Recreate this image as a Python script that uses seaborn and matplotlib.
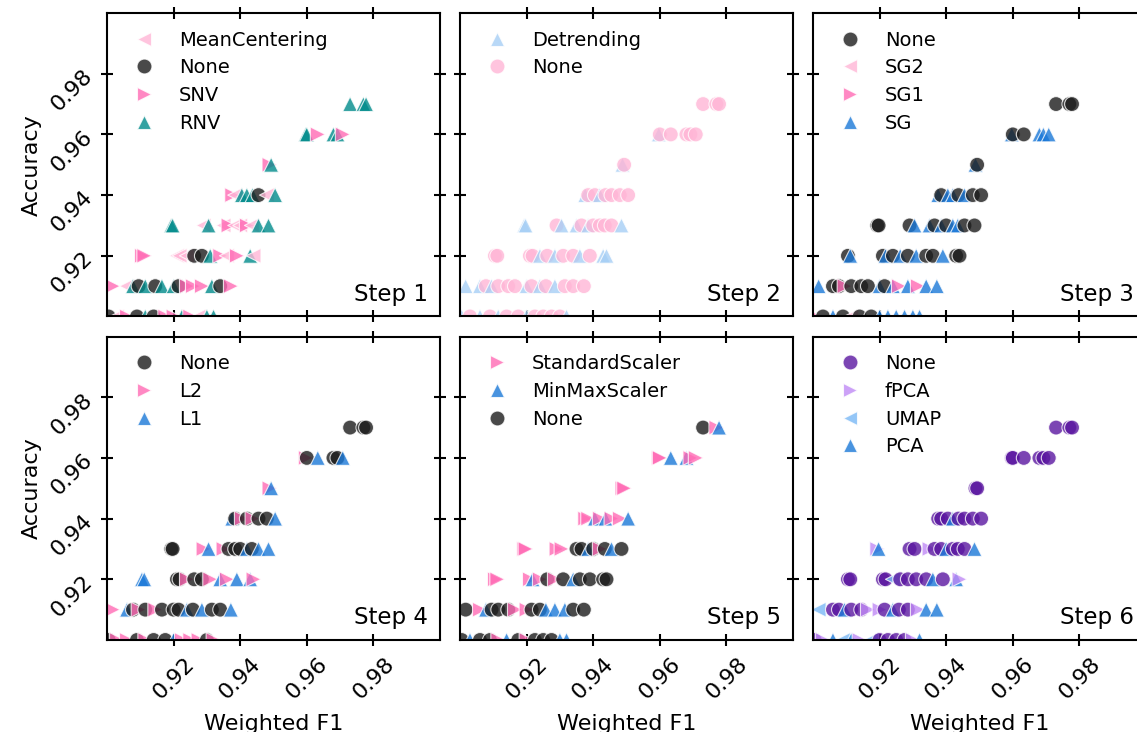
import matplotlib
matplotlib.use('Agg')
import matplotlib.pyplot as plt
import seaborn as sns
import pandas as pd

# one entry per pipeline run, grouped by accuracy level (0.97 down to 0.90)
f1 = [
    0.9730, 0.9770, 0.9778,
    0.9597, 0.9600, 0.9633, 0.9680, 0.9692, 0.9708,
    0.9488, 0.9493,
    0.9376, 0.9385, 0.9405, 0.9420, 0.9437, 0.9455, 0.9480, 0.9505,
    0.9193, 0.9197, 0.9290, 0.9305, 0.9350, 0.9365, 0.9385, 0.9400, 0.9420, 0.9435, 0.9455, 0.9485,
    0.9105, 0.9112, 0.9210, 0.9218, 0.9240, 0.9262, 0.9285, 0.9310, 0.9340, 0.9360, 0.9390, 0.9430, 0.9440,
    0.9017, 0.9060, 0.9078, 0.9095, 0.9115, 0.9145, 0.9165, 0.9200, 0.9215, 0.9240, 0.9258, 0.9285, 0.9315, 0.9340, 0.9372,
    0.9005, 0.9030, 0.9060, 0.9090, 0.9115, 0.9140, 0.9175, 0.9200, 0.9225, 0.9250, 0.9275, 0.9300, 0.9320,
]
acc = [
    0.97, 0.97, 0.97,
    0.96, 0.96, 0.96, 0.96, 0.96, 0.96,
    0.95, 0.95,
    0.94, 0.94, 0.94, 0.94, 0.94, 0.94, 0.94, 0.94,
    0.93, 0.93, 0.93, 0.93, 0.93, 0.93, 0.93, 0.93, 0.93, 0.93, 0.93, 0.93,
    0.92, 0.92, 0.92, 0.92, 0.92, 0.92, 0.92, 0.92, 0.92, 0.92, 0.92, 0.92, 0.92,
    0.91, 0.91, 0.91, 0.91, 0.91, 0.91, 0.91, 0.91, 0.91, 0.91, 0.91, 0.91, 0.91, 0.91, 0.91,
    0.90, 0.90, 0.90, 0.90, 0.90, 0.90, 0.90, 0.90, 0.90, 0.90, 0.90, 0.90, 0.90,
]

step1 = [
    'RNV', 'RNV', 'RNV',
    'RNV', 'RNV', 'SNV', 'RNV', 'RNV', 'SNV',
    'SNV', 'RNV',
    'SNV', 'MeanCentering', 'RNV', 'RNV', 'RNV', 'None', 'MeanCentering', 'RNV',
    'RNV', 'RNV', 'MeanCentering', 'RNV', 'MeanCentering', 'SNV', 'MeanCentering', 'MeanCentering', 'SNV', 'MeanCentering', 'RNV', 'RNV',
    'SNV', 'SNV', 'MeanCentering', 'MeanCentering', 'MeanCentering', 'None', 'None', 'RNV', 'SNV', 'MeanCentering', 'SNV', 'RNV', 'MeanCentering',
    'SNV', 'MeanCentering', 'RNV', 'None', 'RNV', 'None', 'RNV', 'RNV', 'None', 'SNV', 'SNV', 'SNV', 'RNV', 'None', 'SNV',
    'None', 'MeanCentering', 'SNV', 'None', 'RNV', 'None', 'SNV', 'SNV', 'RNV', 'SNV', 'MeanCentering', 'RNV', 'RNV',
]
step2 = [
    'None', 'None', 'None',
    'Detrending', 'None', 'None', 'None', 'None', 'None',
    'Detrending', 'None',
    'Detrending', 'None', 'None', 'Detrending', 'None', 'None', 'None', 'None',
    'Detrending', 'Detrending', 'None', 'Detrending', 'Detrending', 'None', 'Detrending', 'None', 'None', 'None', 'None', 'Detrending',
    'None', 'None', 'None', 'None', 'Detrending', 'None', 'Detrending', 'None', 'None', 'Detrending', 'None', 'Detrending', 'Detrending',
    'Detrending', 'Detrending', 'None', 'Detrending', 'None', 'None', 'None', 'Detrending', 'None', 'Detrending', 'None', 'Detrending', 'None', 'None', 'None',
    'Detrending', 'None', 'Detrending', 'None', 'Detrending', 'None', 'None', 'Detrending', 'None', 'None', 'None', 'None', 'Detrending',
]
step3 = [
    'None', 'None', 'None',
    'SG', 'None', 'None', 'SG', 'SG', 'SG',
    'SG', 'None',
    'SG', 'None', 'SG', 'SG', 'None', 'SG', 'None', 'None',
    'None', 'None', 'None', 'SG', 'SG', 'None', 'SG', 'None', 'SG', 'SG', 'None', 'None',
    'None', 'SG', 'None', 'SG', 'None', 'SG', 'None', 'SG', 'None', 'None', 'SG', 'None', 'None',
    'SG', 'None', 'None', 'SG1', 'None', 'None', 'None', 'SG', 'None', 'SG', 'SG1', 'SG', 'SG1', 'SG', 'SG',
    'SG1', 'None', 'SG', 'None', 'SG2', 'None', 'None', 'SG', 'SG', 'SG', 'SG', 'SG', 'SG',
]
step4 = [
    'None', 'None', 'None',
    'L2', 'None', 'L1', 'None', 'None', 'L1',
    'L2', 'L1',
    'L1', 'None', 'L2', 'None', 'L2', 'None', 'None', 'L1',
    'None', 'None', 'L2', 'L1', 'L2', 'None', 'None', 'None', 'L1', 'None', 'L1', 'L1',
    'L1', 'L1', 'None', 'None', 'L2', 'None', 'None', 'L2', 'L1', 'L2', 'L1', 'L1', 'L2',
    'L2', 'L1', 'None', 'L2', 'None', 'L2', 'None', 'None', 'None', 'L1', 'None', 'L1', 'None', 'None', 'L1',
    'None', 'L2', 'L2', 'None', 'L2', 'None', 'None', 'L1', 'L2', 'L2', 'L2', 'None', 'L2',
]
step5 = [
    'None', 'StandardScaler', 'MinMaxScaler',
    'StandardScaler', 'StandardScaler', 'MinMaxScaler', 'MinMaxScaler', 'StandardScaler', 'StandardScaler',
    'StandardScaler', 'StandardScaler',
    'StandardScaler', 'StandardScaler', 'MinMaxScaler', 'StandardScaler', 'MinMaxScaler', 'StandardScaler', 'StandardScaler', 'MinMaxScaler',
    'StandardScaler', 'StandardScaler', 'StandardScaler', 'StandardScaler', 'None', 'None', 'MinMaxScaler', 'None', 'StandardScaler', 'None', 'MinMaxScaler', 'None',
    'StandardScaler', 'StandardScaler', 'StandardScaler', 'MinMaxScaler', 'StandardScaler', 'None', 'StandardScaler', 'None', 'MinMaxScaler', 'None', 'None', 'None', 'None',
    'None', 'StandardScaler', 'MinMaxScaler', 'None', 'None', 'None', 'StandardScaler', 'StandardScaler', 'None', 'None', 'MinMaxScaler', 'MinMaxScaler', 'MinMaxScaler', 'None', 'None',
    'None', 'MinMaxScaler', 'None', 'None', 'StandardScaler', 'MinMaxScaler', 'None', 'StandardScaler', 'None', 'None', 'None', 'MinMaxScaler', 'MinMaxScaler',
]
step6 = [
    'None', 'None', 'None',
    'None', 'None', 'None', 'None', 'None', 'None',
    'None', 'None',
    'None', 'None', 'None', 'PCA', 'None', 'None', 'None', 'None',
    'fPCA', 'PCA', 'None', 'None', 'fPCA', 'None', 'None', 'PCA', 'None', 'None', 'None', 'PCA',
    'None', 'None', 'None', 'None', 'UMAP', 'None', 'None', 'None', 'None', 'PCA', 'None', 'PCA', 'fPCA',
    'UMAP', 'None', 'None', 'PCA', 'None', 'None', 'fPCA', 'fPCA', 'None', 'PCA', 'None', 'None', 'fPCA', 'PCA', 'PCA',
    'None', 'fPCA', 'PCA', 'UMAP', 'PCA', 'fPCA', 'UMAP', 'None', 'None', 'None', 'None', 'fPCA', 'PCA',
]

# legend order per step
orders = [
    ['MeanCentering', 'None', 'SNV', 'RNV'],
    ['Detrending', 'None'],
    ['None', 'SG2', 'SG1', 'SG'],
    ['None', 'L2', 'L1'],
    ['StandardScaler', 'MinMaxScaler', 'None'],
    ['None', 'fPCA', 'UMAP', 'PCA'],
]

GRAY = '#1c1c1c'
PINK = '#ff6ab5'
LIGHTPINK = '#ffb6d6'
BLUE = '#1a78d8'
palettes = [
    {'MeanCentering': LIGHTPINK, 'None': GRAY, 'SNV': PINK, 'RNV': '#008b8b'},
    {'Detrending': '#a6cff5', 'None': LIGHTPINK},
    {'None': GRAY, 'SG2': LIGHTPINK, 'SG1': PINK, 'SG': BLUE},
    {'None': GRAY, 'L2': PINK, 'L1': BLUE},
    {'StandardScaler': PINK, 'MinMaxScaler': BLUE, 'None': GRAY},
    {'None': '#5a16a0', 'fPCA': '#c08af5', 'UMAP': '#7ab8f5', 'PCA': BLUE},
]
markers = [
    {'MeanCentering': '<', 'None': 'o', 'SNV': '>', 'RNV': '^'},
    {'Detrending': '^', 'None': 'o'},
    {'None': 'o', 'SG2': '<', 'SG1': '>', 'SG': '^'},
    {'None': 'o', 'L2': '>', 'L1': '^'},
    {'StandardScaler': '>', 'MinMaxScaler': '^', 'None': 'o'},
    {'None': 'o', 'fPCA': '>', 'UMAP': '<', 'PCA': '^'},
]

df = pd.DataFrame({'f1': f1, 'acc': acc,
                   'step1': step1, 'step2': step2, 'step3': step3,
                   'step4': step4, 'step5': step5, 'step6': step6})

sns.set_theme(style='white')
plt.rcParams['font.family'] = ['DejaVu Sans']
plt.rcParams.update({
    'axes.edgecolor': 'black', 'axes.linewidth': 1.5,
    'text.color': 'black', 'axes.labelcolor': 'black',
    'xtick.color': 'black', 'ytick.color': 'black',
})

fig, axes = plt.subplots(2, 3, figsize=(11.37, 7.32), dpi=100, sharex=True, sharey=True)
fig.subplots_adjust(left=0.0941, right=1.0079, bottom=0.1257, top=0.9822,
                    wspace=0.06, hspace=0.066)

ticks = [0.92, 0.94, 0.96, 0.98]
for i, ax in enumerate(axes.flat):
    col = f'step{i + 1}'
    sns.scatterplot(data=df, x='f1', y='acc', hue=col, style=col,
                    hue_order=orders[i], style_order=orders[i],
                    palette=palettes[i], markers=markers[i],
                    s=115, alpha=0.8, edgecolor='white', linewidth=0.8, ax=ax)
    sns.move_legend(ax, 'upper left', frameon=False, title=None, fontsize=14,
                    labelspacing=0.45)
    ax.set_xlim(0.90, 1.00)
    ax.set_ylim(0.90, 1.00)
    ax.set_xticks(ticks)
    ax.set_yticks(ticks)
    ax.tick_params(direction='inout', length=8, width=1.5, top=True, right=True,
                   bottom=True, left=True, labelsize=16, color='black')
    ax.tick_params(axis='x', labelrotation=45, pad=6)
    ax.tick_params(axis='y', labelrotation=45)
    ax.text(0.965, 0.035, f'Step {i + 1}', transform=ax.transAxes,
            ha='right', va='bottom', fontsize=16.5)
    ax.set_xlabel('Weighted F1' if i >= 3 else '', fontsize=16, labelpad=8)
    ax.set_ylabel('Accuracy' if i % 3 == 0 else '', fontsize=16)

fig.savefig('out.png', dpi=100)
